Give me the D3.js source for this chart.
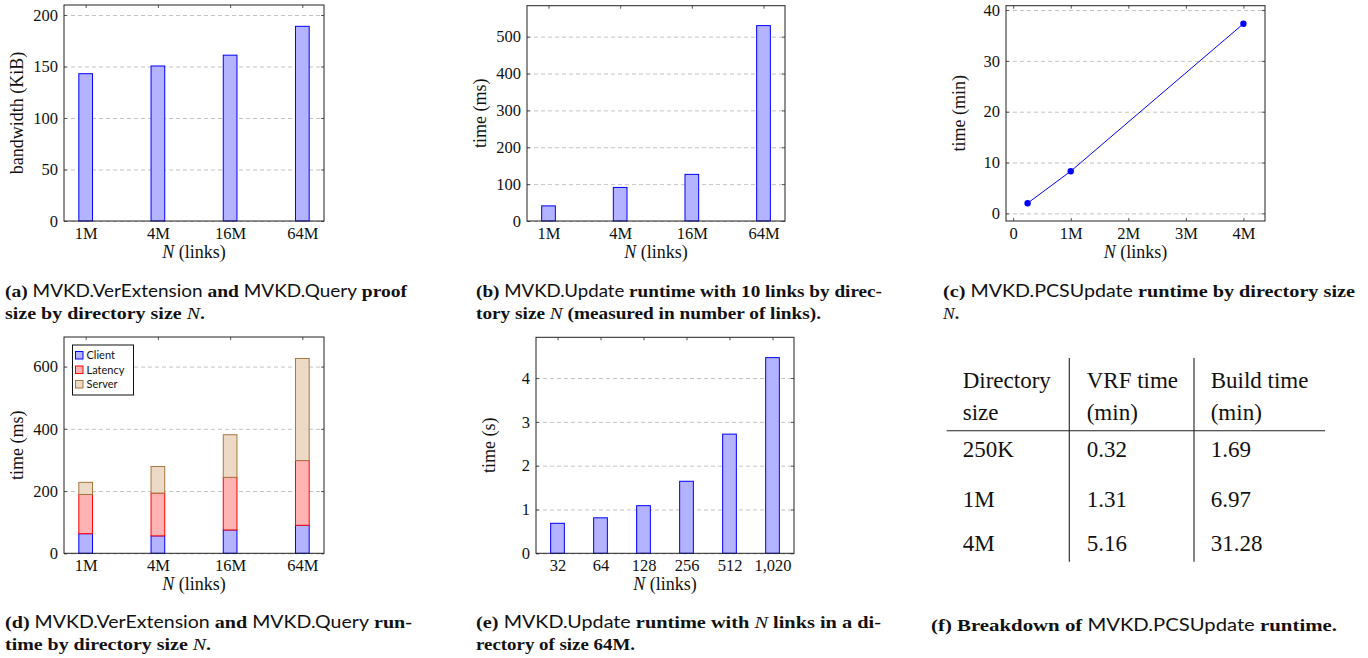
<!DOCTYPE html>
<html>
<head>
<meta charset="utf-8">
<script src="https://cdn.jsdelivr.net/npm/d3@7"></script>
<style>
body { margin: 0; background: #fff; }
</style>
</head>
<body>
<script>
// values
var dirSizes = ["1M", "4M", "16M", "64M"];
var proofKiB = [143, 150.5, 161, 189];
var updateMs = [41, 91, 126.5, 530];

var pcsLinksM = [0.25, 1, 4];
var pcsMin = [2.0, 8.3, 37.3];
var pcsTicks = [0, 1, 2, 3, 4];
var pcsTickLabels = ["0", "1M", "2M", "3M", "4M"];

var clientMs = [63, 56, 75, 90];
var latencyMs = [126, 137.5, 169, 208];
var serverMs = [39, 85.5, 137, 328];
var stackNames = ["Client", "Latency", "Server"];

var linkCounts = ["32", "64", "128", "256", "512", "1,020"];
var linkSec = [0.685, 0.81, 1.087, 1.644, 2.72, 4.466];

var tableHead = [["Directory", "size"], ["VRF time", "(min)"], ["Build time", "(min)"]];
var tableSizes = ["250K", "1M", "4M"];
var vrfMin = ["0.32", "1.31", "5.16"];
var buildMin = ["1.69", "6.97", "31.28"];

var blue = "#0000ff", blueFill = "#b3b3ff";
var red = "#ff0000", redFill = "#ffb3b3";
var brown = "#a8773f", brownFill = "#ecd9c6";
var serif = "'Liberation Serif', serif";
var sans = "Lato, 'Noto Sans', sans-serif";

var svg = d3.select("body").append("svg")
  .attr("width", 1368)
  .attr("height", 658)
  .attr("font-family", serif)
  .attr("fill", "#111");

function grid(x, y, yTicks) {
  var l = x.range()[0], r = x.range()[1];
  svg.append("g")
    .attr("transform", "translate(" + l + ",0)")
    .call(d3.axisLeft(y).tickValues(yTicks).tickSize(-(r - l)).tickFormat(""))
    .call(function(g) { g.select(".domain").remove(); })
    .selectAll("line")
    .attr("stroke", "#c4c4c4")
    .attr("stroke-dasharray", "4,3");
}

function axes(x, y, xTicks, xFmt, yTicks, yTitle, bottomTick) {
  var l = x.range()[0], r = x.range()[1], b = y.range()[0], t = y.range()[1];
  var g = svg.append("g");
  g.append("g")
    .attr("transform", "translate(0," + b + ")")
    .call(d3.axisBottom(x).tickValues(xTicks).tickFormat(xFmt).tickSize(bottomTick).tickPadding(6));
  g.append("g")
    .attr("transform", "translate(0," + t + ")")
    .call(d3.axisTop(x).tickValues(xTicks).tickFormat("").tickSize(-3));
  g.append("g")
    .attr("transform", "translate(" + l + ",0)")
    .call(d3.axisLeft(y).tickValues(yTicks).tickFormat(function(v) { return String(v); }).tickSize(-3).tickPadding(6));
  g.append("g")
    .attr("transform", "translate(" + r + ",0)")
    .call(d3.axisRight(y).tickValues(yTicks).tickFormat("").tickSize(-3));
  g.selectAll(".domain").remove();
  g.selectAll(".tick line").attr("stroke", "#555");
  g.selectAll(".tick text")
    .attr("font-family", serif)
    .attr("font-size", 16.5)
    .attr("fill", "#111");
  g.append("rect")
    .attr("x", l).attr("y", t)
    .attr("width", r - l).attr("height", b - t)
    .attr("fill", "none").attr("stroke", "#222");

  var xt = g.append("text")
    .attr("x", (l + r) / 2).attr("y", b + 37)
    .attr("text-anchor", "middle").attr("font-size", 18);
  xt.append("tspan").attr("font-style", "italic").text("N");
  xt.append("tspan").text(" (links)");

  g.append("text")
    .attr("transform", "translate(" + (l - 41) + "," + ((t + b) / 2) + ") rotate(-90)")
    .attr("text-anchor", "middle").attr("font-size", 18)
    .text(yTitle);
}

function simpleBars(x, y, values, barW) {
  svg.append("g").selectAll("rect")
    .data(values)
    .enter().append("rect")
    .attr("x", function(d, i) { return x(i) - barW / 2; })
    .attr("y", function(d) { return y(d); })
    .attr("width", barW)
    .attr("height", function(d) { return y(0) - y(d); })
    .attr("fill", blueFill)
    .attr("stroke", blue);
}

var idx4 = d3.range(dirSizes.length);
var barW = 13.7;

// (a)
var xa = d3.scaleLinear().domain([-0.3, 3.3]).range([64, 324]);
var ya = d3.scaleLinear().domain([0, 209.7]).range([221, 5]);
grid(xa, ya, [0, 50, 100, 150, 200]);
simpleBars(xa, ya, proofKiB, barW);
axes(xa, ya, idx4, function(i) { return dirSizes[i]; }, [0, 50, 100, 150, 200], "bandwidth (KiB)", 0);

// (b)
var xb = d3.scaleLinear().domain([-0.3, 3.3]).range([527, 785]);
var yb = d3.scaleLinear().domain([0, 584]).range([221, 5.7]);
grid(xb, yb, [0, 100, 200, 300, 400, 500]);
simpleBars(xb, yb, updateMs, barW);
axes(xb, yb, idx4, function(i) { return dirSizes[i]; }, [0, 100, 200, 300, 400, 500], "time (ms)", 0);

// (c)
var xc = d3.scaleLinear().domain([-0.125, 4.375]).range([1006, 1265]);
var yc = d3.scaleLinear().domain([-1.5, 40.85]).range([221, 5.7]);
grid(xc, yc, [0, 10, 20, 30, 40]);
var pcs = pcsLinksM.map(function(n, i) { return [n, pcsMin[i]]; });
svg.append("path")
  .datum(pcs)
  .attr("d", d3.line().x(function(d) { return xc(d[0]); }).y(function(d) { return yc(d[1]); }))
  .attr("fill", "none").attr("stroke", blue).attr("stroke-width", 1);
svg.append("g").selectAll("circle")
  .data(pcs)
  .enter().append("circle")
  .attr("cx", function(d) { return xc(d[0]); })
  .attr("cy", function(d) { return yc(d[1]); })
  .attr("r", 3.2)
  .attr("fill", blue);
axes(xc, yc, pcsTicks, function(v, i) { return pcsTickLabels[i]; }, [0, 10, 20, 30, 40], "time (min)", -3);

// (d)
var xd = d3.scaleLinear().domain([-0.3, 3.3]).range([64, 324]);
var yd = d3.scaleLinear().domain([0, 695]).range([553.3, 337]);
grid(xd, yd, [0, 200, 400, 600]);
var rows = idx4.map(function(i) {
  return { i: i, Client: clientMs[i], Latency: latencyMs[i], Server: serverMs[i] };
});
var stacked = d3.stack().keys(stackNames)(rows);
var fills = { Client: blueFill, Latency: redFill, Server: brownFill };
var strokes = { Client: blue, Latency: red, Server: brown };
svg.append("g").selectAll("g")
  .data(stacked)
  .enter().append("g")
  .attr("fill", function(s) { return fills[s.key]; })
  .attr("stroke", function(s) { return strokes[s.key]; })
  .selectAll("rect")
  .data(function(s) { return s; })
  .enter().append("rect")
  .attr("x", function(d) { return xd(d.data.i) - barW / 2; })
  .attr("y", function(d) { return yd(d[1]); })
  .attr("width", barW)
  .attr("height", function(d) { return yd(d[0]) - yd(d[1]); });
axes(xd, yd, idx4, function(i) { return dirSizes[i]; }, [0, 200, 400, 600], "time (ms)", 0);

var legend = svg.append("g").attr("transform", "translate(72.5,345)");
legend.append("rect")
  .attr("width", 61).attr("height", 50)
  .attr("fill", "#fff").attr("stroke", "#111");
var item = legend.selectAll("g.item")
  .data(stackNames)
  .enter().append("g")
  .attr("class", "item")
  .attr("transform", function(d, i) { return "translate(3," + (6.5 + i * 14.5) + ")"; });
item.append("rect")
  .attr("width", 7.5).attr("height", 7.5)
  .attr("fill", function(d) { return fills[d]; })
  .attr("stroke", function(d) { return strokes[d]; });
item.append("text")
  .attr("x", 11).attr("y", 7.5)
  .attr("font-family", sans)
  .attr("font-size", 11)
  .attr("fill", "#111")
  .text(function(d) { return d; });

// (e)
var idx6 = d3.range(linkCounts.length);
var xe = d3.scaleLinear().domain([-0.5, 5.5]).range([536, 794]);
var ye = d3.scaleLinear().domain([0, 4.93]).range([553.3, 337.3]);
grid(xe, ye, [0, 1, 2, 3, 4]);
simpleBars(xe, ye, linkSec, barW);
axes(xe, ye, idx6, function(i) { return linkCounts[i]; }, [0, 1, 2, 3, 4], "time (s)", 0);

// (f) table
var colX = [962.7, 1086.7, 1210.7];
var tab = svg.append("g").attr("font-size", 23).attr("font-family", serif);
tableHead.forEach(function(h, c) {
  h.forEach(function(line, k) {
    tab.append("text").attr("x", colX[c]).attr("y", 388 + k * 31.5).text(line);
  });
});
var rowY = [457, 506.5, 551];
[tableSizes, vrfMin, buildMin].forEach(function(col, c) {
  tab.selectAll(null)
    .data(col)
    .enter().append("text")
    .attr("x", colX[c])
    .attr("y", function(d, r) { return rowY[r]; })
    .text(function(d) { return d; });
});
tab.append("line").attr("x1", 946.7).attr("x2", 1325).attr("y1", 430.7).attr("y2", 430.7)
  .attr("stroke", "#222").attr("stroke-width", 1.1);
[1069.3, 1194].forEach(function(vx) {
  tab.append("line").attr("x1", vx).attr("x2", vx).attr("y1", 358).attr("y2", 561.7)
    .attr("stroke", "#222").attr("stroke-width", 1.1);
});

// captions
var captions = [
  { x: 5, y: 296.5, w: 402, parts: [["(a) ", "b"], ["MVKD.VerExtension", "s"], [" and ", "b"], ["MVKD.Query", "s"], [" proof", "b"]] },
  { x: 5, y: 318.5, w: 200, parts: [["size by directory size ", "b"], ["N", "i"], [".", "b"]] },
  { x: 476, y: 296.5, w: 406, parts: [["(b) ", "b"], ["MVKD.Update", "s"], [" runtime with 10 links by direc-", "b"]] },
  { x: 476, y: 318.5, w: 345, parts: [["tory size ", "b"], ["N", "i"], [" (measured in number of links).", "b"]] },
  { x: 943, y: 296.5, w: 412, parts: [["(c) ", "b"], ["MVKD.PCSUpdate", "s"], [" runtime by directory size", "b"]] },
  { x: 943, y: 318.5, w: 0, parts: [["N", "i"], [".", "b"]] },
  { x: 5, y: 627.5, w: 407, parts: [["(d) ", "b"], ["MVKD.VerExtension", "s"], [" and ", "b"], ["MVKD.Query", "s"], [" run-", "b"]] },
  { x: 5, y: 649.5, w: 206, parts: [["time by directory size ", "b"], ["N", "i"], [".", "b"]] },
  { x: 476, y: 627.5, w: 405, parts: [["(e) ", "b"], ["MVKD.Update", "s"], [" runtime with ", "b"], ["N", "i"], [" links in a di-", "b"]] },
  { x: 476, y: 649.5, w: 159, parts: [["rectory of size 64M.", "b"]] },
  { x: 931, y: 630.5, w: 406, parts: [["(f) Breakdown of ", "b"], ["MVKD.PCSUpdate", "s"], [" runtime.", "b"]] }
];

captions.forEach(function(c) {
  var t = svg.append("text").attr("x", c.x).attr("y", c.y)
    .attr("font-size", 17.5).attr("font-family", serif).attr("fill", "#111");
  if (c.w) t.attr("textLength", c.w).attr("lengthAdjust", "spacingAndGlyphs");
  c.parts.forEach(function(p) {
    var s = t.append("tspan").text(p[0]);
    if (p[1] === "b") s.attr("font-weight", "bold");
    if (p[1] === "i") s.attr("font-style", "italic");
    if (p[1] === "s") s.attr("font-family", sans).attr("font-size", 17);
  });
});
</script>
</body>
</html>
